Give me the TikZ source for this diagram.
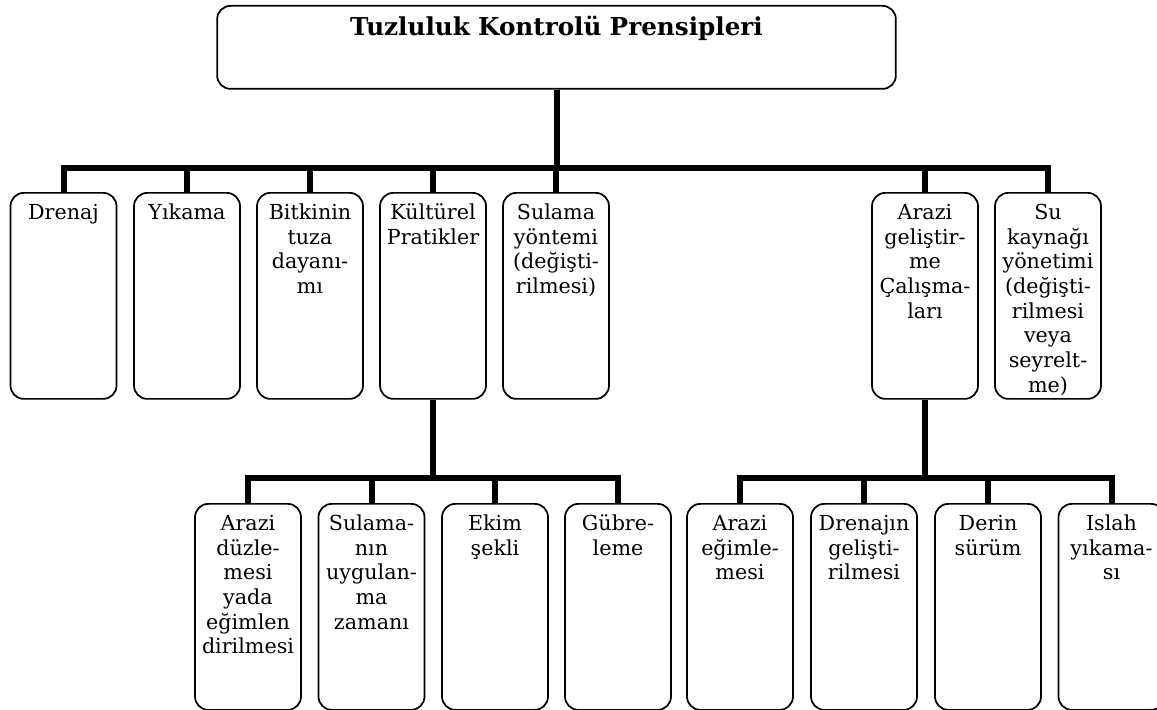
\documentclass[tikz,border=0pt]{standalone}
\usepackage{fontspec}
\setmainfont{DejaVu Serif}
\usepackage{tikz}
\usetikzlibrary{positioning}

\begin{document}
\begin{tikzpicture}[x=0.75pt, y=-0.75pt,
  kutu/.style={draw, fill=white, line width=1.3pt, rounded corners=10pt, anchor=north,
    inner sep=0pt, text width=79.5pt, align=center, text height=20pt, text depth=134.5pt,
    font=\fontsize{15.5}{18.5}\selectfont},
  bag/.style={line width=4.5pt}]
\useasboundingbox (0,0) rectangle (1157,710);

% ana baslik
\node[kutu, text width=509pt, text height=22.5pt, text depth=39.75pt,
  font=\fontsize{18.5}{20}\selectfont\bfseries] (baslik) at (556.5,5) {Tuzluluk Kontrolü Prensipleri};

% birinci seviye
\node[kutu] (drenaj) at (63.5,192) {Drenaj};
\node[kutu] (yikama) at (187,192) {Yıkama};
\node[kutu] (bitki) at (310,192) {Bitkinin\\tuza\\dayanı-\\mı};
\node[kutu] (kultur) at (433,192) {Kültürel\\Pratikler};
\node[kutu] (sulama) at (556,192) {Sulama\\yöntemi\\(değişti-\\rilmesi)};
\node[kutu] (arazi) at (925,192) {Arazi\\geliştir-\\me\\Çalışma-\\ları};
\node[kutu] (su) at (1048,192) {Su\\kaynağı\\yönetimi\\(değişti-\\rilmesi\\veya\\seyrelt-\\me)};

% ikinci seviye
\node[kutu] (duz) at (248,503) {Arazi\\düzle-\\mesi\\yada\\eğimlen\\dirilmesi};
\node[kutu] (zaman) at (371.5,503) {Sulama-\\nın\\uygulan-\\ma\\zamanı};
\node[kutu] (ekim) at (495,503) {Ekim\\şekli};
\node[kutu] (gubre) at (618,503) {Gübre-\\leme};
\node[kutu] (egim) at (740,503) {Arazi\\eğimle-\\mesi};
\node[kutu] (gelis) at (864,503) {Drenajın\\gelişti-\\rilmesi};
\node[kutu] (derin) at (988,503) {Derin\\sürüm};
\node[kutu] (islah) at (1111.5,503) {Islah\\yıkama-\\sı};

% baglantilar
\coordinate (ust) at (0,168);
\coordinate (alt) at (0,478);
\foreach \n in {drenaj,yikama,bitki,kultur,sulama,arazi,su}
  \draw[bag] (baslik.south) -- (baslik.south |- ust) -| (\n.north);
\foreach \n in {duz,zaman,ekim,gubre}
  \draw[bag] (kultur.south) -- (kultur.south |- alt) -| (\n.north);
\foreach \n in {egim,gelis,derin,islah}
  \draw[bag] (arazi.south) -- (arazi.south |- alt) -| (\n.north);
\end{tikzpicture}
\end{document}
